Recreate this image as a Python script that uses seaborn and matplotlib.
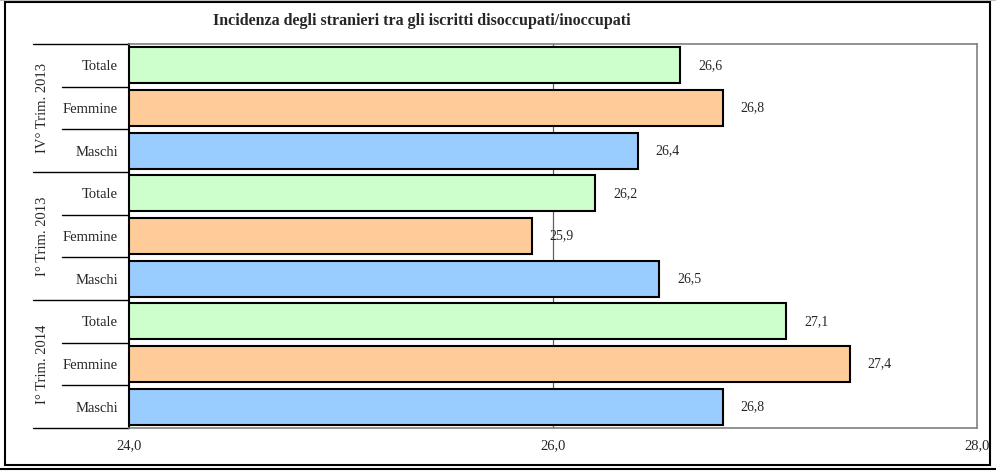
import pandas as pd
import seaborn as sns
import matplotlib.pyplot as plt
from matplotlib.patches import Rectangle

# Dati (dall'alto verso il basso)
periodi = ['IV° Trim. 2013', 'I° Trim. 2013', 'I° Trim. 2014']
categorie = ['Totale', 'Femmine', 'Maschi']
valori_iv_2013 = [26.6, 26.8, 26.4]
valori_i_2013 = [26.2, 25.9, 26.5]
valori_i_2014 = [27.1, 27.4, 26.8]
colori = {'Totale': '#CCFFCC', 'Femmine': '#FFCC99', 'Maschi': '#99CCFF'}
xticks = [24.0, 26.0, 28.0]

righe = []
for periodo, valori in zip(periodi, [valori_iv_2013, valori_i_2013, valori_i_2014]):
    for cat, v in zip(categorie, valori):
        righe.append({'periodo': periodo, 'categoria': cat, 'valore': v,
                      'id': periodo + '|' + cat})
df = pd.DataFrame(righe)

sns.set_style('white')
plt.rcParams['font.family'] = ['Liberation Serif', 'DejaVu Serif']

fig = plt.figure(figsize=(9.96, 4.73), dpi=100)
ax = fig.add_axes([0.1295, 0.0951, 0.8514, 0.812])

sns.barplot(data=df, x='valore', y='id', hue='categoria', palette=colori,
            dodge=False, width=0.84, edgecolor='black', linewidth=1.5,
            saturation=1, legend=False, ax=ax)

ax.set_xlim(24, 28)
ax.set_ylim(8.5, -0.5)
ax.set_xticks(xticks)
ax.set_xticklabels([f'{t:.1f}'.replace('.', ',') for t in xticks], fontsize=10.5)
ax.tick_params(axis='x', length=4, width=0.8, color='#808080', pad=4)
ax.set_yticks(range(len(df)))
ax.set_yticklabels(df['categoria'], fontsize=10.5)
ax.tick_params(axis='y', length=0, pad=8)
ax.set_xlabel('')
ax.set_ylabel('')
ax.axvline(26, color='#606060', lw=0.9, zorder=0)

for s in ['top', 'right', 'bottom']:
    ax.spines[s].set_color('#808080')
    ax.spines[s].set_linewidth(1.2)
ax.spines['left'].set_color('black')
ax.spines['left'].set_linewidth(1.5)

# etichette valori
for i, v in enumerate(df['valore']):
    ax.text(v + 0.085, i, f'{v:.1f}'.replace('.', ','), va='center', ha='left', fontsize=10)

# separatori e etichette dei periodi
tr = ax.get_yaxis_transform()
for y in [-0.5, 2.5, 5.5, 8.5]:
    ax.plot([-0.1132, 0], [y, y], transform=tr, color='black', lw=1, clip_on=False)
for g in range(3):
    for k in [0.5, 1.5]:
        y = g * 3 + k
        ax.plot([-0.079, 0], [y, y], transform=tr, color='black', lw=1, clip_on=False)
    ax.text(-0.1014, g * 3 + 1, periodi[g], transform=tr, rotation=90,
            va='center', ha='center', fontsize=10.5)

fig.text(0.424, 0.955, 'Incidenza degli stranieri tra gli iscritti disoccupati/inoccupati',
         ha='center', va='center', fontsize=11.5, fontweight='bold')

fig.patches.append(Rectangle((0.005, 0.017), 0.989, 0.979, transform=fig.transFigure,
                             fill=False, edgecolor='black', lw=1.5))
fig.add_artist(plt.Line2D([0, 1], [0.008, 0.008], color='black', lw=1.5))
fig.add_artist(plt.Line2D([0, 1], [0.999, 0.999], color='#c0c0c0', lw=1.5))

fig.savefig('out.png', dpi=100)
